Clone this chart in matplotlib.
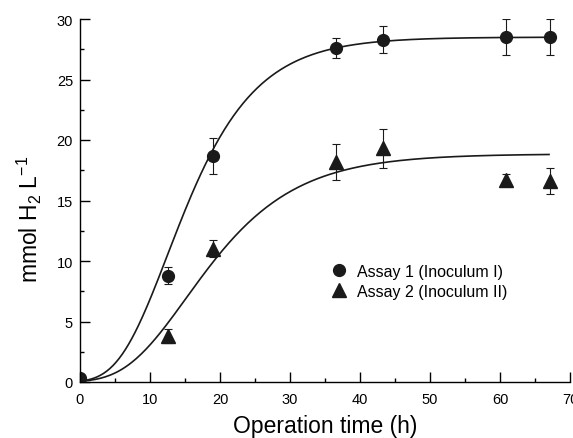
import numpy as np
import matplotlib
matplotlib.use("Agg")
import matplotlib.pyplot as plt
from matplotlib.ticker import MultipleLocator

plt.rcParams['font.family'] = ['Liberation Sans', 'DejaVu Sans']
plt.rcParams['mathtext.fontset'] = 'custom'
plt.rcParams['mathtext.rm'] = 'Liberation Sans'
plt.rcParams['mathtext.it'] = 'Liberation Sans:italic'

# Assay 1 (Inoculum I)
t1 = [0, 12.6, 19.0, 36.6, 43.3, 60.8, 67.2]
h1 = [0.3, 8.8, 18.7, 27.6, 28.3, 28.5, 28.5]
e1 = [0.0, 0.7, 1.5, 0.8, 1.1, 1.5, 1.5]

# Assay 2 (Inoculum II)
t2 = [0, 12.6, 19.0, 36.6, 43.3, 60.8, 67.2]
h2 = [0.1, 3.8, 11.0, 18.2, 19.3, 16.7, 16.6]
e2 = [0.0, 0.6, 0.7, 1.5, 1.6, 0.5, 1.1]

# modified Gompertz fits: P (mmol/L), Rm (mmol/L/h), lambda (h)
fit1 = [28.5, 1.5, 5.5]
fit2 = [18.85, 0.8, 6.5]

labels = ["Assay 1 (Inoculum I)", "Assay 2 (Inoculum II)"]


def gompertz(t, p, rm, lam):
    return p * np.exp(-np.exp(rm * np.e / p * (lam - t) + 1))


fig = plt.figure(figsize=(5.73, 4.39), dpi=100)
ax = fig.add_axes([80 / 573, 56 / 439, 490 / 573, 363 / 439])

tt = np.linspace(0, 67, 300)
col = '#1a1a1a'
ax.plot(tt, gompertz(tt, *fit1), color=col, lw=1.2)
ax.plot(tt, gompertz(tt, *fit2), color=col, lw=1.2)

ax.errorbar(t1, h1, yerr=e1, fmt='o', color=col, ms=8.5, elinewidth=0.8,
            capsize=3, capthick=0.8, label=labels[0])
ax.errorbar(t2, h2, yerr=e2, fmt='^', color=col, ms=10, elinewidth=0.8,
            capsize=3, capthick=0.8, label=labels[1])

ax.set_xlim(0, 70)
ax.set_ylim(0, 30)
ax.xaxis.set_major_locator(MultipleLocator(10))
ax.xaxis.set_minor_locator(MultipleLocator(5))
ax.yaxis.set_major_locator(MultipleLocator(5))
ax.yaxis.set_minor_locator(MultipleLocator(2.5))
ax.tick_params(which='major', direction='in', length=7, width=1, labelsize=10.5)
ax.tick_params(axis='x', which='major', pad=7)
ax.tick_params(axis='y', which='major', pad=5)
ax.tick_params(which='minor', direction='in', length=3, width=1)
for s in ['top', 'right']:
    ax.spines[s].set_visible(False)
for s in ['left', 'bottom']:
    ax.spines[s].set_linewidth(1)

ax.set_xlabel("Operation time (h)", fontsize=16.5)
ax.xaxis.set_label_coords(0.5, -0.088)
ax.set_ylabel("mmol H$_2$ L$^{-1}$", fontsize=16.5)
ax.yaxis.set_label_coords(-0.074, 0.45)

handles, labs = ax.get_legend_handles_labels()
handles = [h[0] for h in handles]
ax.legend(handles, labs, loc='center', bbox_to_anchor=(0.69, 0.278), frameon=False,
          fontsize=11.5, handletextpad=0.55, labelspacing=0.32, handlelength=1.2)

fig.savefig("out.png", dpi=100)
